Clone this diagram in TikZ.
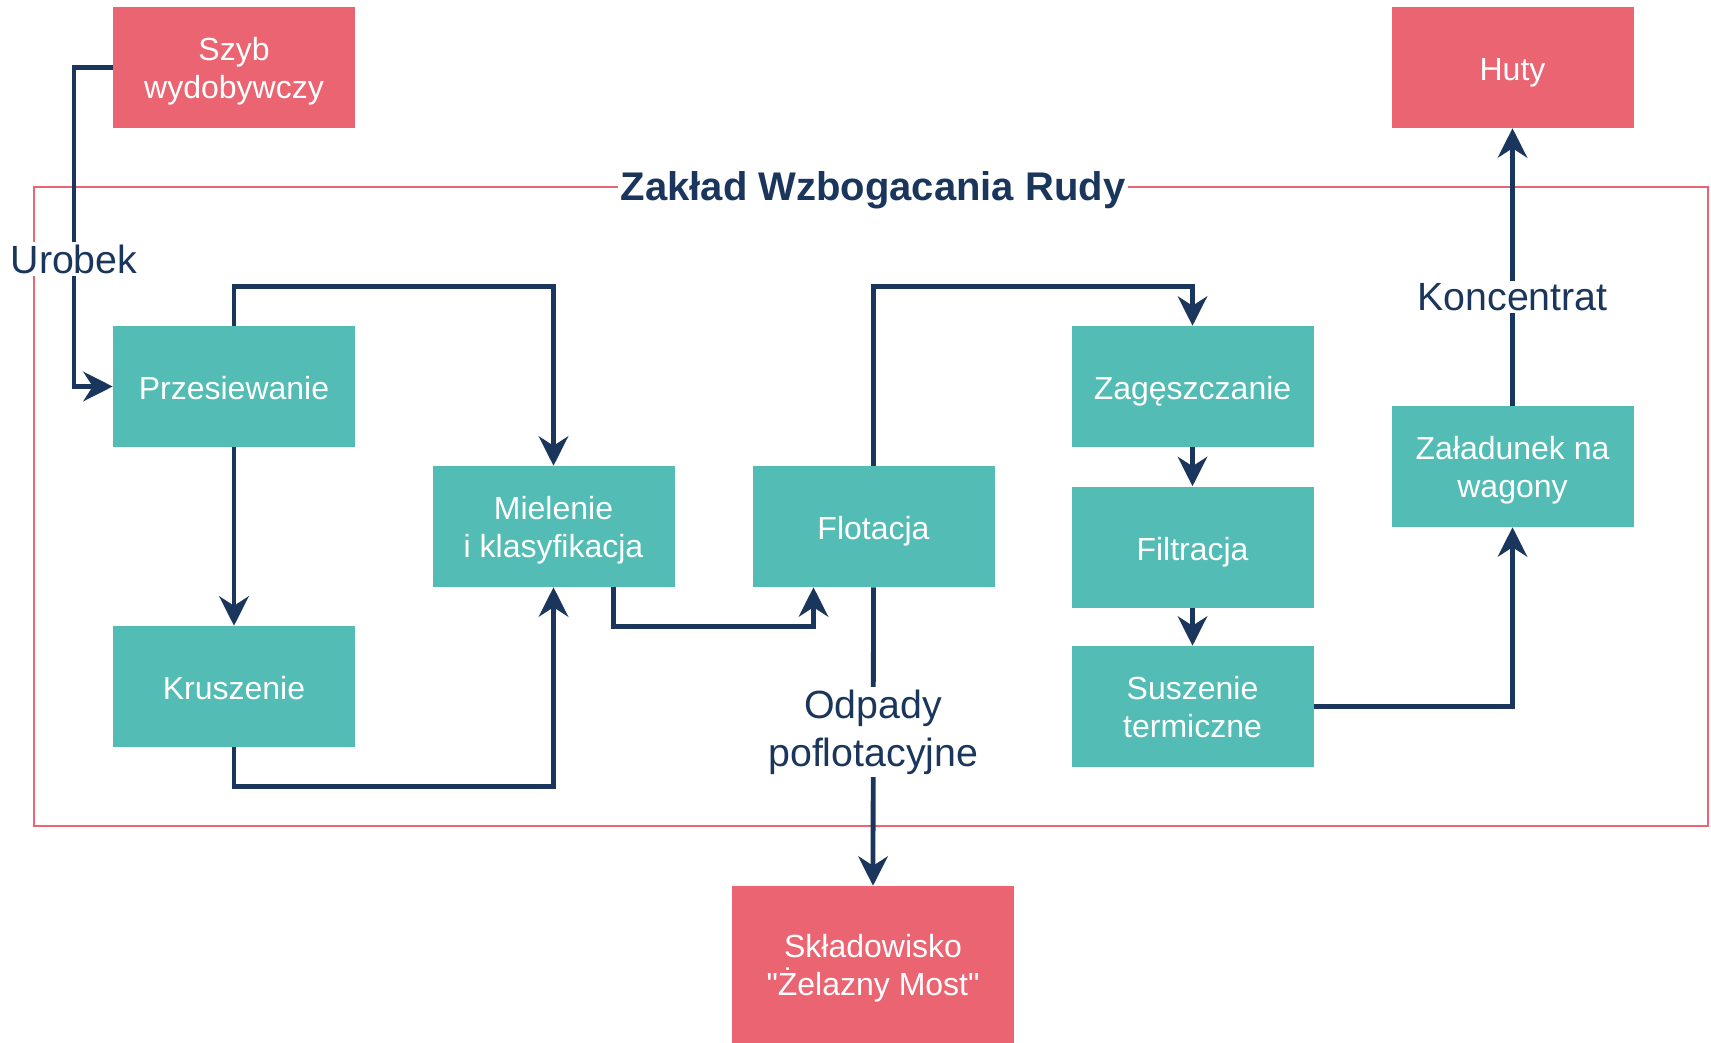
\documentclass[tikz,border=0pt]{standalone}
\usepackage{fontspec}
\setmainfont{Liberation Sans}
\usetikzlibrary{arrows.meta}
\definecolor{rudared}{HTML}{EB6472}
\definecolor{rudateal}{HTML}{52BCB5}
\definecolor{rudanavy}{HTML}{1B365C}

\begin{document}
\begin{tikzpicture}[x=0.75pt,y=-0.75pt,
    box/.style={shape=rectangle, minimum width=181.5pt, minimum height=90.75pt, inner sep=2pt, align=center, text=white, font=\fontsize{24}{28.5}\selectfont,
        execute at begin node={\rule{0pt}{26pt}}, execute at end node={\rule[-6pt]{0pt}{6pt}}},
    twolines/.style={execute at begin node={\rule{0pt}{52pt}}},
    procbox/.style={box, fill=rudateal},
    endbox/.style={box, fill=rudared},
    flow/.style={draw=rudanavy, line width=3.6pt, -{Stealth[length=22pt,width=22pt,inset=7pt]}},
    lbl/.style={fill=white, text=rudanavy, inner sep=2pt, align=center, font=\fontsize{29.5}{36}\selectfont}]

    \useasboundingbox (0,0) rectangle (1711,1043);

    % ramka zakladu
    \draw [draw=rudared, line width=1.1pt] (34,187) rectangle (1708,826);
    \node[fill=white, inner sep=2pt, text=rudanavy, font=\fontsize{30}{36}\selectfont\bfseries] (zaklad) at (873,190) {Zakład Wzbogacania Rudy};

    % bloki zewnetrzne
    \node[endbox, twolines] (szyb) at (234,67.5) {Szyb\\wydobywczy};
    \node[endbox] (huty) at (1512.5,67.5) {Huty};
    \node[endbox, twolines, minimum width=211.5pt, minimum height=117.75pt] (sklad) at (873,964.5) {Składowisko\\\textquotedbl Żelazny Most\textquotedbl};

    % procesy
    \foreach \n/\x/\y/\t in {przes/234/386.5/{Przesiewanie}, krusz/234/686.5/{Kruszenie},
            flot/873.5/526.5/{Flotacja}, zag/1192.5/386.5/{Zagęszczanie}, filtr/1192.5/547/{Filtracja}}
        \node[procbox] (\n) at (\x,\y) {\t};
    \foreach \n/\x/\y/\t in {miel/553.5/526.5/{Mielenie\\i klasyfikacja},
            susz/1192.5/706.5/{Suszenie\\termiczne}, zalad/1512.5/466.5/{Załadunek na\\wagony}}
        \node[procbox, twolines] (\n) at (\x,\y) {\t};

    \foreach \a/\b in {przes/krusz, zag/filtr, filtr/susz}
        \draw [flow] (\a) -- (\b);

    \draw [flow] (szyb.west) -| (74,259) node[lbl] (urobek) {Urobek} |- (przes.west);
    \draw [flow] (przes.north) -- ++(0,-39) -| (miel.north);
    \draw [flow] (krusz.south) -- ++(0,39) -| (miel.south);
    \draw [flow] ([xshift=45pt]miel.south) -- ++(0,39) -| ([xshift=-45pt]flot.south);
    \draw [flow] (flot.north) -- ++(0,-179) -| (zag.north);
    \draw [flow] (susz.east) -| (zalad.south);
    \draw [flow] (zalad.north) -- node[lbl, pos=0.392] (konc) {Koncentrat} (huty.south);
    \draw [flow] (flot.south) -- node[lbl, pos=0.485] (odpady) {Odpady\\poflotacyjne} (sklad.north);

\end{tikzpicture}
\end{document}
